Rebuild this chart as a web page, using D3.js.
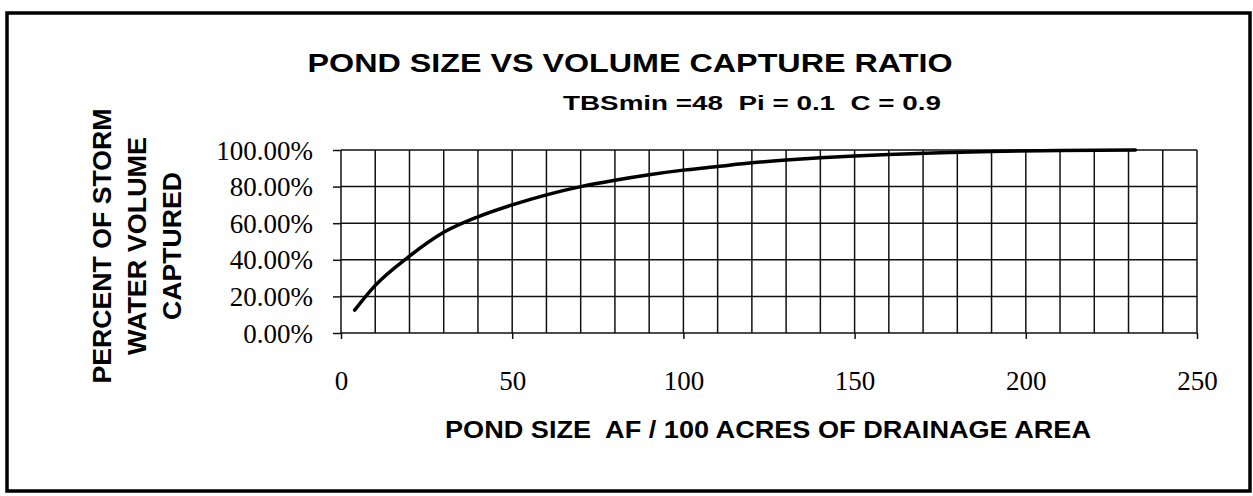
<!DOCTYPE html>
<html>
<head>
<meta charset="utf-8">
<script src="https://cdn.jsdelivr.net/npm/d3@7"></script>
<style>
  body { margin: 0; background: #fff; }
  svg { display: block; }
</style>
</head>
<body>
<svg id="canvas" width="1253" height="496"></svg>
<script>
// pond size (AF / 100 acres) and fraction of storm water volume captured
let pondSize = [4, 10, 20, 30, 40, 50, 60, 70, 80, 90, 100, 110, 120, 130, 140, 150, 160, 175, 190, 210, 232]
let captured = [0.125, 0.26, 0.42, 0.55, 0.635, 0.70, 0.755, 0.80, 0.835, 0.865, 0.89, 0.91, 0.93, 0.945, 0.957, 0.967, 0.975, 0.985, 0.992, 0.997, 1.0]

let xTicks = [0, 50, 100, 150, 200, 250]
let yTicks = [0, 0.2, 0.4, 0.6, 0.8, 1.0]
let xGrid = d3.range(0, 251, 10)

let titleText = 'POND SIZE VS VOLUME CAPTURE RATIO'
let subtitleText = 'TBSmin =48  Pi = 0.1  C = 0.9'
let xTitle = 'POND SIZE  AF / 100 ACRES OF DRAINAGE AREA'
let yTitle = ['PERCENT OF STORM', 'WATER VOLUME', 'CAPTURED']

let canvas = d3.select('#canvas')
let sans = '"Liberation Sans", Arial, sans-serif'
let serif = '"Liberation Serif", "Times New Roman", serif'

let xScale = d3.scaleLinear().domain([0, 250]).range([341, 1197])
let yScale = d3.scaleLinear().domain([0, 1]).range([333, 150])

// outer frame
canvas.append('rect')
    .attr('x', 7).attr('y', 13)
    .attr('width', 1243).attr('height', 478)
    .attr('fill', 'none')
    .attr('stroke', '#000')
    .attr('stroke-width', 3.5)

// grid
let grid = canvas.append('g')
    .attr('stroke', '#111')
    .attr('stroke-width', 1.5)
grid.selectAll('line.v')
    .data(xGrid)
    .enter()
    .append('line')
    .attr('class', 'v')
    .attr('x1', (d) => xScale(d)).attr('x2', (d) => xScale(d))
    .attr('y1', yScale(1)).attr('y2', yScale(0))
grid.selectAll('line.h')
    .data(yTicks)
    .enter()
    .append('line')
    .attr('class', 'h')
    .attr('x1', xScale(0)).attr('x2', xScale(250))
    .attr('y1', (d) => yScale(d)).attr('y2', (d) => yScale(d))

// axes
let xAxis = d3.axisBottom(xScale).tickValues(xTicks).tickSize(6).tickFormat(d3.format('d'))
let yAxis = d3.axisLeft(yScale).tickValues(yTicks).tickSize(8).tickFormat(d3.format('.2%'))

let gx = canvas.append('g')
    .attr('transform', 'translate(0,' + yScale(0) + ')')
    .call(xAxis)
gx.select('.domain').remove()
gx.selectAll('line').attr('stroke', '#111').attr('stroke-width', 1.5)
gx.selectAll('text')
    .attr('y', 38)
    .attr('fill', '#000')
    .style('font-family', serif)
    .style('font-size', '27px')

let gy = canvas.append('g')
    .attr('transform', 'translate(' + xScale(0) + ',0)')
    .call(yAxis)
gy.select('.domain').remove()
gy.selectAll('line').attr('stroke', '#111').attr('stroke-width', 1.5)
gy.selectAll('text')
    .attr('x', -28)
    .attr('dy', '0.34em')
    .attr('fill', '#000')
    .style('font-family', serif)
    .style('font-size', '27px')

// curve
let points = pondSize.map((d, i) => [d, captured[i]])
let line = d3.line()
    .x((d) => xScale(d[0]))
    .y((d) => yScale(d[1]))
    .curve(d3.curveMonotoneX)
canvas.append('path')
    .datum(points)
    .attr('d', line)
    .attr('fill', 'none')
    .attr('stroke', '#000')
    .attr('stroke-width', 3.5)
    .attr('stroke-linecap', 'round')

// titles (stretched to the widths of the scanned original)
canvas.append('text')
    .text(titleText)
    .attr('x', 630).attr('y', 72)
    .attr('text-anchor', 'middle')
    .attr('textLength', 645)
    .attr('lengthAdjust', 'spacingAndGlyphs')
    .style('font-family', sans)
    .style('font-weight', 'bold')
    .style('font-size', '25px')

canvas.append('text')
    .text(subtitleText)
    .attr('x', 752).attr('y', 110)
    .attr('text-anchor', 'middle')
    .attr('textLength', 378)
    .attr('lengthAdjust', 'spacingAndGlyphs')
    .style('white-space', 'pre')
    .style('font-family', sans)
    .style('font-weight', 'bold')
    .style('font-size', '21px')

canvas.append('text')
    .text(xTitle)
    .attr('x', 768).attr('y', 438)
    .attr('text-anchor', 'middle')
    .attr('textLength', 646)
    .attr('lengthAdjust', 'spacingAndGlyphs')
    .style('white-space', 'pre')
    .style('font-family', sans)
    .style('font-weight', 'bold')
    .style('font-size', '24px')

let yLens = [275, 218, 148]
let yLabel = canvas.append('g')
    .attr('transform', 'translate(111,246) rotate(-90)')
yLabel.selectAll('text')
    .data(yTitle)
    .enter()
    .append('text')
    .text((d) => d)
    .attr('x', 0)
    .attr('y', (d, i) => i * 35)
    .attr('text-anchor', 'middle')
    .attr('textLength', (d, i) => yLens[i])
    .attr('lengthAdjust', 'spacingAndGlyphs')
    .style('font-family', sans)
    .style('font-weight', 'bold')
    .style('font-size', '25px')
</script>
</body>
</html>
